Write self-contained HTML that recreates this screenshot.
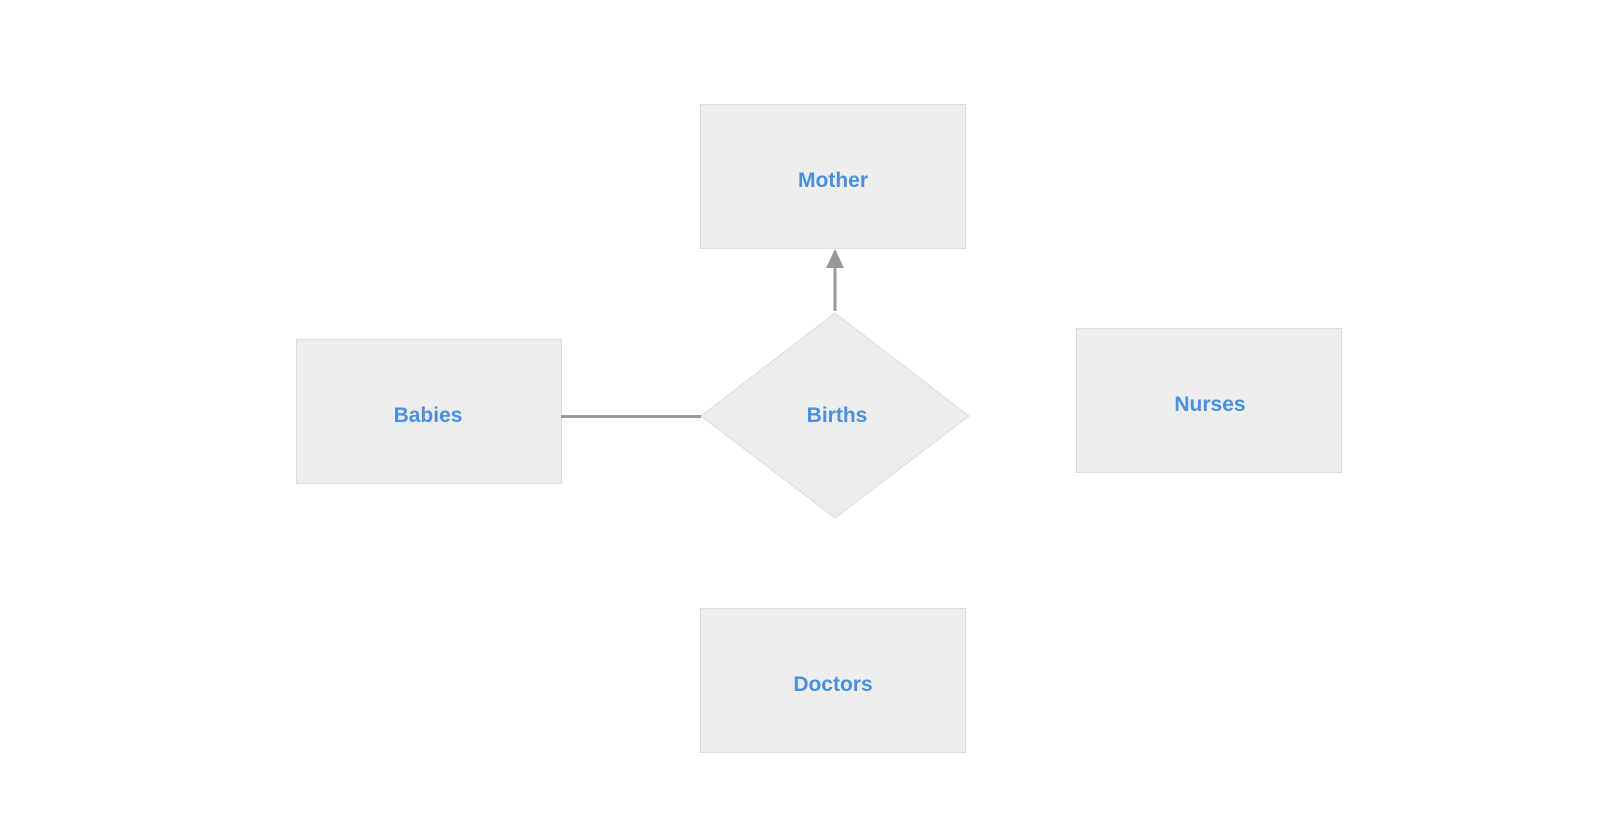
<!DOCTYPE html>
<html><head><meta charset="utf-8"><style>
html,body{margin:0;padding:0;background:#fff;width:1603px;height:823px;overflow:hidden}
</style></head><body>
<svg width="1603" height="823" xmlns="http://www.w3.org/2000/svg" style="display:block">
<g fill="#ededed" stroke="#dcdcdc" stroke-width="1">
<rect x="700.5" y="104.5" width="265" height="144"/>
<rect x="296.5" y="339.5" width="265" height="144"/>
<rect x="1076.5" y="328.5" width="265" height="144"/>
<rect x="700.5" y="608.5" width="265" height="144"/>
<polygon points="835,313 969,416 835,518 701,416"/>
</g>
<line x1="561" y1="416.5" x2="701" y2="416.5" stroke="#999" stroke-width="3"/>
<line x1="835" y1="311" x2="835" y2="266" stroke="#999" stroke-width="3"/>
<polygon points="835,249 844,268 826,268" fill="#999"/>
<g font-family="Liberation Sans, sans-serif" font-size="21" font-weight="bold" fill="#4a8fe0" text-anchor="middle">
<text x="833" y="187">Mother</text>
<text x="428" y="422">Babies</text>
<text x="837" y="422">Births</text>
<text x="1210" y="411">Nurses</text>
<text x="833" y="691">Doctors</text>
</g>
</svg>
</body></html>
